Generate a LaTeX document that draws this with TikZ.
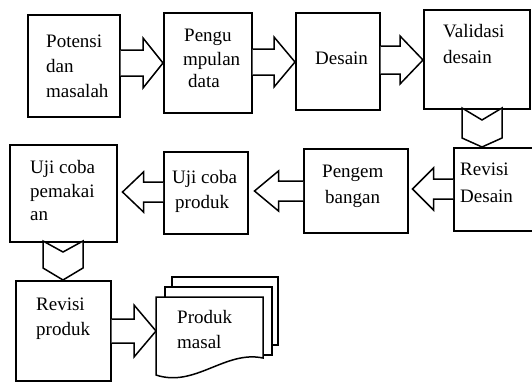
\documentclass[tikz,border=0pt]{standalone}
\usepackage{fontspec}
\setmainfont{Liberation Serif}
\usetikzlibrary{calc}
\tikzset{
  box/.style={draw, line width=1.5pt, fill=white, inner sep=0pt, anchor=north west},
  blk/.style={draw, line width=1.5pt, fill=white, line join=miter},
  lbl/.style={anchor=base west, inner sep=0pt, font=\fontsize{19}{24}\selectfont},
  doc/.style={draw, line width=1.5pt, fill=white}
}
% horizontal block arrow: #1 start ref, #2 tip ref, #3 y centre, #4 head length (signed, from tip), #5 shaft half, #6 head half, #7 tip offset
\newcommand\hblk[7]{%
  \draw[blk] ($(#1 |- 0,#3)+(0,-#5)$) -- ($(#2 |- 0,#3)+(#7+#4,-#5)$) -- ($(#2 |- 0,#3)+(#7+#4,-#6)$)
    -- ($(#2 |- 0,#3)+(#7,0)$) -- ($(#2 |- 0,#3)+(#7+#4,#6)$) -- ($(#2 |- 0,#3)+(#7+#4,#5)$) -- ($(#1 |- 0,#3)+(0,#5)$);}
% downward chevron: #1 top centre coordinate, #2 half width, #3 notch depth, #4 side length, #5 tip depth
\newcommand\vchev[5]{%
  \draw[blk] ($(#1)+(-#2,0)$) -- ($(#1)+(0,#3)$) -- ($(#1)+(#2,0)$) -- ($(#1)+(#2,#4)$) -- ($(#1)+(0,#5)$) -- ($(#1)+(-#2,#4)$) -- cycle;}
\begin{document}
\begin{tikzpicture}[x=1pt,y=-1pt]
\clip (0,0) rectangle (532,381);
\fill[white] (0,0) rectangle (532,381);
% boxes
\node[box, minimum width=92pt, minimum height=102pt] (b1) at (27,14) {};
\node[box, minimum width=88pt, minimum height=100pt] (b2) at (163,12) {};
\node[box, minimum width=84pt, minimum height=97pt] (b3) at (295,12) {};
\node[box, minimum width=106pt, minimum height=99pt] (b4) at (423,9) {};
\node[box, minimum width=92pt, minimum height=83pt] (b5) at (453,147) {};
\node[box, minimum width=104pt, minimum height=84pt] (b6) at (303,148) {};
\node[box, minimum width=84pt, minimum height=82pt] (b7) at (163,151) {};
\node[box, minimum width=107pt, minimum height=97pt] (b8) at (9,144) {};
\node[box, minimum width=95pt, minimum height=100pt] (b9) at (15,280) {};
% document stack
\draw[doc] (172,277) rectangle (278,345);
\draw[doc] (165,287) rectangle (272,355);
\draw[doc] (156,297) -- (263,297) -- (263,358) .. controls (225,350) and (195,388) .. (156,375) -- cycle;
\coordinate (doc) at (156,331);
% arrows
\hblk{b1.east}{b2.west}{63}{-20}{13}{25}{0}
\hblk{b2.east}{b3.west}{62}{-21}{13}{25}{0}
\hblk{b3.east}{b4.west}{60}{-23}{14}{24}{0}
\hblk{b5.west}{b6.east}{189}{21}{10}{21}{4}
\hblk{b6.west}{b7.east}{191}{24}{10}{20}{6}
\hblk{b7.west}{b8.east}{192}{21}{10}{20}{5}
\hblk{b9.east}{doc}{331}{-22}{12}{26}{0}
\coordinate (c1) at (482,108);
\coordinate (c2) at (63,241);
\vchev{c1}{20}{12}{30}{39}
\vchev{c2}{20}{11}{27}{39}
% labels
\node[lbl] (t1a) at (46,47) {Potensi};
\node[lbl] (t1b) at (46,72) {dan};
\node[lbl] (t1c) at (46,97) {masalah};
\node[lbl] (t2a) at (184,41) {Pengu};
\node[lbl] (t2b) at (183,65) {mpulan};
\node[lbl] (t2c) at (188,87) {data};
\node[lbl] (t3a) at (315,64) {Desain};
\node[lbl] (t4a) at (443,37) {Validasi};
\node[lbl] (t4b) at (443,63) {desain};
\node[lbl] (t5a) at (460,175) {Revisi};
\node[lbl] (t5b) at (460,202) {Desain};
\node[lbl] (t6a) at (322,177) {Pengem};
\node[lbl] (t6b) at (325,203) {bangan};
\node[lbl] (t7a) at (172,183) {Uji coba};
\node[lbl] (t7b) at (175,208) {produk};
\node[lbl] (t8a) at (30,173) {Uji coba};
\node[lbl] (t8b) at (30,197) {pemakai};
\node[lbl] (t8c) at (30,220) {an};
\node[lbl] (t9a) at (36,310) {Revisi};
\node[lbl] (t9b) at (36,335) {produk};
\node[lbl] (tda) at (177,323) {Produk};
\node[lbl] (tdb) at (177,348) {masal};
\end{tikzpicture}
\end{document}
